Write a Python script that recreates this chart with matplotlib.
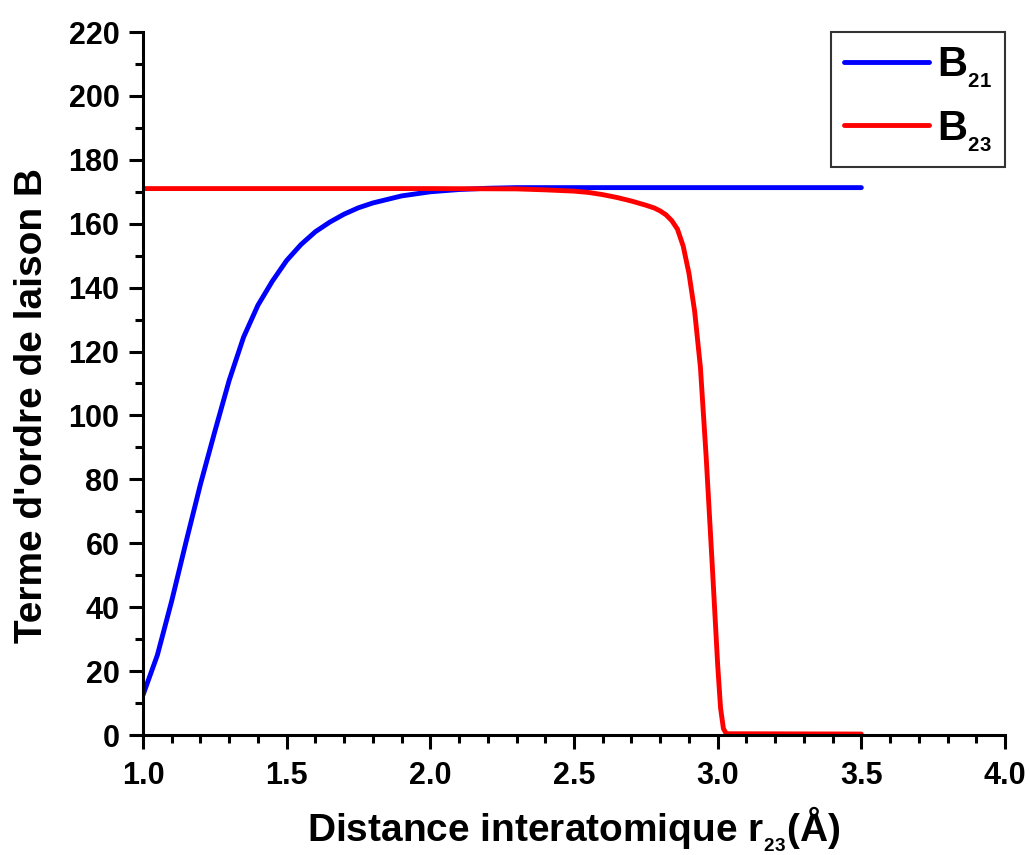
import matplotlib
matplotlib.use("Agg")
import matplotlib.pyplot as plt
from matplotlib.ticker import MultipleLocator, FormatStrFormatter

plt.rcParams['font.family'] = ['Liberation Sans', 'DejaVu Sans']
plt.rcParams['font.weight'] = 'bold'
plt.rcParams['mathtext.fontset'] = 'custom'
plt.rcParams['mathtext.rm'] = 'Liberation Sans:bold'
plt.rcParams['mathtext.bf'] = 'Liberation Sans:bold'
plt.rcParams['mathtext.it'] = 'Liberation Sans:bold'

# B21 (blue)
x_b21 = [1.0, 1.05, 1.10, 1.15, 1.20, 1.25, 1.30, 1.35, 1.40, 1.45, 1.50, 1.55,
         1.60, 1.65, 1.70, 1.75, 1.80, 1.90, 2.0, 2.1, 2.2, 2.3, 2.5, 3.0, 3.5]
y_b21 = [12.5, 25, 42, 60.5, 78.5, 95, 111, 124.5, 134.5, 142, 148.5, 153.5,
         157.5, 160.5, 163, 165, 166.5, 168.7, 170, 170.7, 171.1, 171.3, 171.3, 171.3, 171.3]

# B23 (red)
x_b23 = [1.0, 2.0, 2.3, 2.4, 2.5, 2.55, 2.6, 2.65, 2.7, 2.75, 2.78, 2.8, 2.82, 2.84, 2.86,
         2.88, 2.90, 2.92, 2.94, 2.96, 2.98, 3.0, 3.01, 3.02, 3.03, 3.5]
y_b23 = [171, 171, 170.9, 170.6, 170.2, 169.8, 169.1, 168.2, 167.1, 165.8, 164.9, 164.0, 162.8, 161.0, 158.3,
         153, 144.5, 132.5, 115, 87, 55, 22, 8.5, 2, 0.4, 0.3]

labels = [r'$\mathbf{B}_{{}_{\mathbf{21}}}$', r'$\mathbf{B}_{{}_{\mathbf{23}}}$']

fig = plt.figure(figsize=(10.3, 8.55), dpi=100)
ax = fig.add_axes([143/1030, 1 - 735/855, (1005-143)/1030, (735-32)/855])

ax.plot(x_b21, y_b21, color='#0000ff', lw=3.5, label=labels[0], solid_capstyle='round')
ax.plot(x_b23, y_b23, color='#ff0000', lw=3.5, label=labels[1], solid_capstyle='round')

ax.set_xlim(1.0, 4.0)
ax.set_ylim(0, 220)
ax.xaxis.set_major_locator(MultipleLocator(0.5))
ax.xaxis.set_minor_locator(MultipleLocator(0.1))
ax.yaxis.set_major_locator(MultipleLocator(20))
ax.yaxis.set_minor_locator(MultipleLocator(10))
ax.xaxis.set_major_formatter(FormatStrFormatter('%.1f'))

for s in ['top', 'right']:
    ax.spines[s].set_visible(False)
for s in ['left', 'bottom']:
    ax.spines[s].set_linewidth(2.2)

ax.tick_params(which='major', direction='out', length=10, width=2.2, labelsize=22, pad=7)
ax.tick_params(which='minor', direction='out', length=6, width=2.2)
ax.tick_params(axis='x', which='major', pad=9)
for t in ax.get_xticklabels() + ax.get_yticklabels():
    t.set_fontweight('bold')

ax.set_xlabel(r'Distance interatomique r$_{{}_{\mathbf{23}}}$(Å)', fontsize=28, fontweight='bold', labelpad=9)
ax.set_ylabel("Terme d'ordre de laison B", fontsize=28, fontweight='bold')
ax.yaxis.set_label_coords(-0.108, 0.469)

leg = ax.legend(loc='upper right', bbox_to_anchor=(1.0, 1.0), fontsize=30, frameon=True,
                fancybox=False, handlelength=2.05, borderpad=0.32, labelspacing=0.45,
                handletextpad=0.18, borderaxespad=0)
leg.get_frame().set_edgecolor('black')
leg.get_frame().set_linewidth(1.5)

fig.savefig('out.png', dpi=100)
